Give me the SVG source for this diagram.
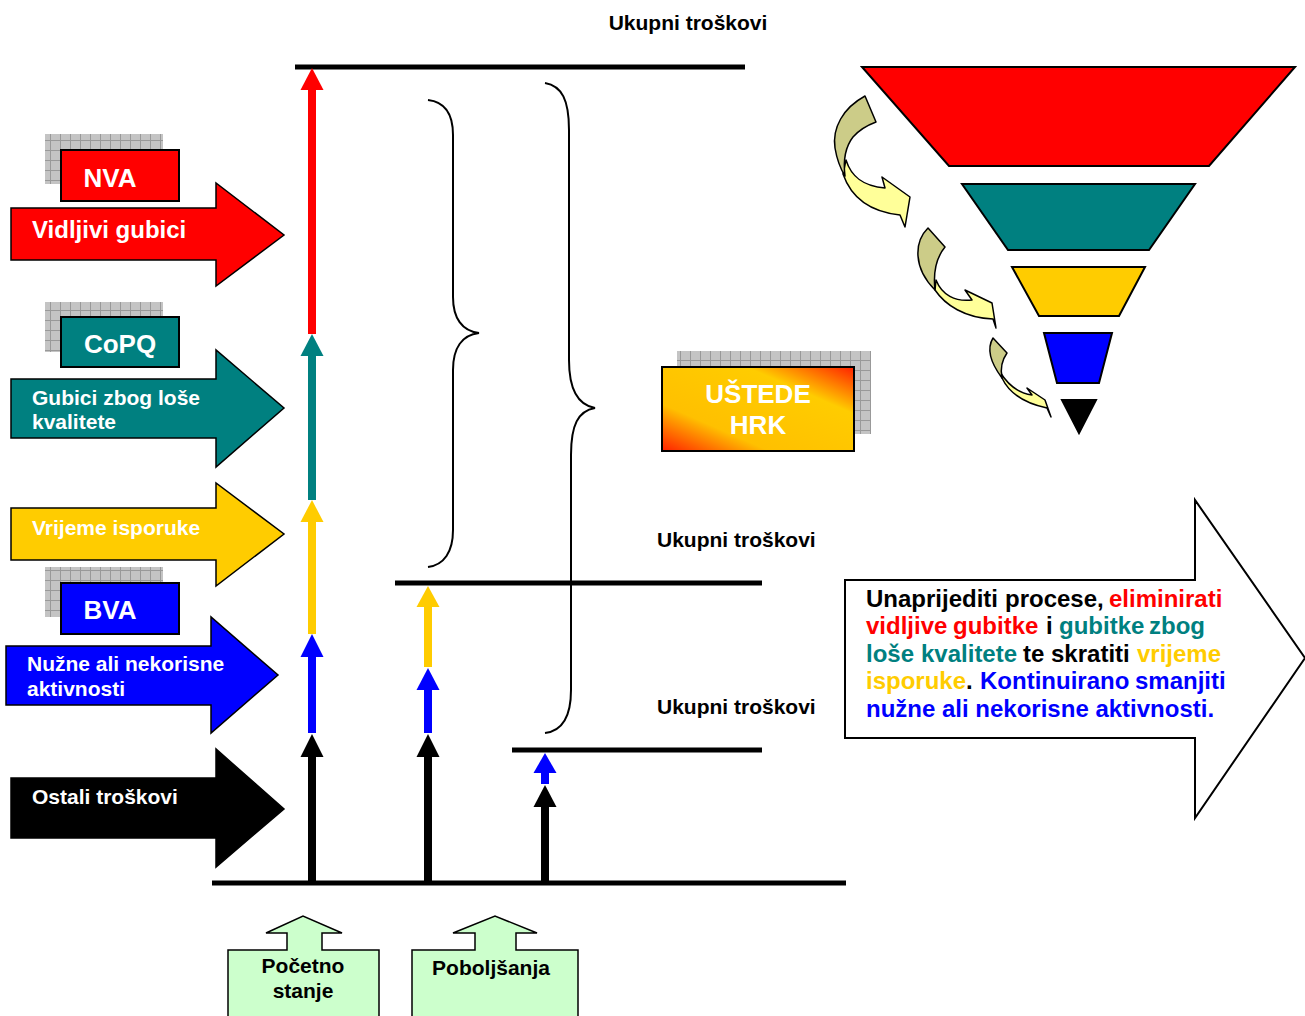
<svg xmlns="http://www.w3.org/2000/svg" width="1305" height="1016" viewBox="0 0 1305 1016">
<defs>
<pattern id="grid" width="10" height="10" patternUnits="userSpaceOnUse">
<rect width="10" height="10" fill="#c4c4c4"/>
<path d="M0,0.5H10M0.5,0V10" stroke="#999" stroke-width="1"/>
</pattern>
<linearGradient id="sav" x1="0" y1="1" x2="1" y2="0">
<stop offset="0" stop-color="#FF2000"/>
<stop offset="0.28" stop-color="#FFC000"/>
<stop offset="0.72" stop-color="#FFCC00"/>
<stop offset="1" stop-color="#FF2000"/>
</linearGradient>
<style>
text{font-family:"Liberation Sans",Arial,sans-serif;font-weight:bold}
.w{fill:#fff}
.k{fill:#000}
.big{stroke:#000;stroke-width:1.5;stroke-linejoin:miter}
.box{stroke:#000;stroke-width:2}
.hl{stroke:#000;stroke-width:5}
.v{stroke-width:8}
.br{fill:none;stroke:#000;stroke-width:2}
.fun{stroke:#000;stroke-width:2}
.ca{stroke:#000;stroke-width:1.5;stroke-linejoin:round}
.cb{stroke:#000;stroke-width:1.5;fill:#CCFFCC}
</style>
</defs>
<rect width="1305" height="1016" fill="#fff"/>

<text x="688" y="30" font-size="21" text-anchor="middle">Ukupni troškovi</text>
<text x="657" y="547" font-size="21">Ukupni troškovi</text>
<text x="657" y="714" font-size="21">Ukupni troškovi</text>

<g id="nva">
<rect x="45" y="134" width="118" height="50" fill="url(#grid)"/>
<rect x="61" y="150" width="118" height="51" fill="#FF0000" class="box"/>
<text x="110" y="187" font-size="26" class="w" text-anchor="middle">NVA</text>
</g>
<g id="vidljivi">
<path d="M11,208 H216 V183 L284,235 L216,286 V260 H11 Z" fill="#FF0000" class="big"/>
<text x="32" y="238" font-size="24" class="w">Vidljivi gubici</text>
</g>

<g id="copq">
<rect x="45" y="302" width="118" height="50" fill="url(#grid)"/>
<rect x="61" y="317" width="118" height="50" fill="#008080" class="box"/>
<text x="120" y="353" font-size="26" class="w" text-anchor="middle">CoPQ</text>
</g>
<g id="gubici">
<path d="M11,379 H216 V350 L284,408 L216,467 V438 H11 Z" fill="#008080" class="big"/>
<text x="32" y="405" font-size="21" class="w">Gubici zbog loše</text>
<text x="32" y="429" font-size="21" class="w">kvalitete</text>
</g>

<g id="vrijeme">
<path d="M11,508 H216 V483 L284,534 L216,586 V560 H11 Z" fill="#FFCC00" class="big"/>
<text x="32" y="535" font-size="21" class="w">Vrijeme isporuke</text>
</g>

<g id="bva">
<rect x="45" y="567" width="118" height="50" fill="url(#grid)"/>
<rect x="61" y="583" width="118" height="51" fill="#0000FF" class="box"/>
<text x="110" y="619" font-size="26" class="w" text-anchor="middle">BVA</text>
</g>
<g id="nuzne">
<path d="M6,646 H211 V617 L278,675 L211,733 V705 H6 Z" fill="#0000FF" class="big"/>
<text x="27" y="671" font-size="21" class="w">Nužne ali nekorisne</text>
<text x="27" y="696" font-size="21" class="w">aktivnosti</text>
</g>

<g id="ostali">
<path d="M11,778 H216 V749 L284,809 L216,867 V838 H11 Z" fill="#000" class="big"/>
<text x="32" y="804" font-size="21" class="w">Ostali troškovi</text>
</g>

<g id="connectors">
<line x1="295" y1="67" x2="745" y2="67" class="hl" stroke-width="6"/>
<line x1="395" y1="583" x2="762" y2="583" class="hl"/>
<line x1="512" y1="750" x2="762" y2="750" class="hl"/>
<line x1="212" y1="883" x2="846" y2="883" class="hl"/>

<line x1="312" y1="88" x2="312" y2="334" stroke="#FF0000" class="v"/>
<polygon points="312,68 300.5,90 323.5,90" fill="#FF0000"/>
<line x1="312" y1="354" x2="312" y2="500" stroke="#008080" class="v"/>
<polygon points="312,334 300.5,356 323.5,356" fill="#008080"/>
<line x1="312" y1="520" x2="312" y2="634" stroke="#FFCC00" class="v"/>
<polygon points="312,500 300.5,522 323.5,522" fill="#FFCC00"/>
<line x1="312" y1="655" x2="312" y2="733" stroke="#0000FF" class="v"/>
<polygon points="312,634 300.5,657 323.5,657" fill="#0000FF"/>
<line x1="312" y1="755" x2="312" y2="881" stroke="#000" class="v"/>
<polygon points="312,734 300.5,757 323.5,757" fill="#000"/>

<line x1="428" y1="605" x2="428" y2="667" stroke="#FFCC00" class="v"/>
<polygon points="428,586 416.5,607 439.5,607" fill="#FFCC00"/>
<line x1="428" y1="688" x2="428" y2="733" stroke="#0000FF" class="v"/>
<polygon points="428,668 416.5,690 439.5,690" fill="#0000FF"/>
<line x1="428" y1="755" x2="428" y2="881" stroke="#000" class="v"/>
<polygon points="428,734 416.5,757 439.5,757" fill="#000"/>

<line x1="545" y1="771" x2="545" y2="784" stroke="#0000FF" class="v"/>
<polygon points="545,753 533.5,773 556.5,773" fill="#0000FF"/>
<line x1="545" y1="805" x2="545" y2="881" stroke="#000" class="v"/>
<polygon points="545,785 533.5,807 556.5,807" fill="#000"/>

<path d="M428,100 C446,102 453,115 453,135 V297 C453,318 462,331 479,333 C462,335 453,348 453,370 V530 C453,552 444,565 428,567" class="br"/>
<path d="M545,83 C562,86 569,100 569,130 V360 C569,390 578,405 595,408 C578,411 571,425 571,455 V690 C571,716 562,731 545,733" class="br"/>
</g>

<g id="ustede">
<rect x="677" y="351" width="194" height="83" fill="url(#grid)"/>
<rect x="662" y="367" width="192" height="84" fill="url(#sav)" class="box"/>
<text x="758" y="403" font-size="26" class="w" text-anchor="middle">UŠTEDE</text>
<text x="758" y="434" font-size="26" class="w" text-anchor="middle">HRK</text>
</g>

<g id="funnel">
<polygon points="862,67 1295,67 1209,166 949,166" fill="#FF0000" class="fun"/>
<polygon points="962,184 1195,184 1149,250 1008,250" fill="#008080" class="fun"/>
<polygon points="1012,267 1145,267 1119,316 1039,316" fill="#FFCC00" class="fun"/>
<polygon points="1044,333 1112,333 1099,383 1057,383" fill="#0000FF" class="fun"/>
<polygon points="1062,400 1096,400 1079,433" fill="#000" class="fun"/>
</g>

<g id="curved-arrows">
<path d="M846,160 C851,176 862,186 885,188 L882,177 L910,197 L905,227 L900,215 C872,212 852,200 843,174 Z" fill="#FFFF99" class="ca"/>
<path d="M865,96 C843,108 832,128 835,148 C837,160 840,168 845,176 C843,160 846,146 853,137 C860,129 868,125 876,122 Z" fill="#CCCC88" class="ca"/>
<path d="M936,280 C942,295 955,302 972,300 L965,290 L992,303 L996,328 L993,319 C965,318 945,305 935,290 Z" fill="#FFFF99" class="ca"/>
<path d="M928,228 C914,242 913,268 935,290 C933,272 936,258 945,247 Z" fill="#CCCC88" class="ca"/>
<path d="M1000,372 C1008,385 1018,393 1032,395 L1027,388 L1045,400 L1051,417 L1047,408 C1028,404 1010,395 1002,378 Z" fill="#FFFF99" class="ca"/>
<path d="M993,338 C987,348 990,362 1002,378 C1000,368 1002,360 1007,353 Z" fill="#CCCC88" class="ca"/>
</g>

<g id="goal">
<path d="M845,580 H1195 V500 L1305,658 L1195,818 V738 H845 Z" fill="#fff" stroke="#000" stroke-width="2"/>
<g font-size="24">
<text y="607"><tspan x="866" fill="#000">Unaprijediti</tspan><tspan x="1005" fill="#000">procese,</tspan><tspan x="1109" fill="#FF0000">eliminirati</tspan></text>
<text y="634"><tspan x="866" fill="#FF0000">vidljive</tspan><tspan x="953" fill="#FF0000">gubitke</tspan><tspan x="1046" fill="#000">i</tspan><tspan x="1059" fill="#008080">gubitke</tspan><tspan x="1149" fill="#008080">zbog</tspan></text>
<text y="662"><tspan x="866" fill="#008080">loše</tspan><tspan x="921" fill="#008080">kvalitete</tspan><tspan x="1023" fill="#000">te</tspan><tspan x="1051" fill="#000">skratiti</tspan><tspan x="1137" fill="#FFCC00">vrijeme</tspan></text>
<text y="689"><tspan x="866" fill="#FFCC00">isporuke</tspan><tspan fill="#000">.</tspan><tspan x="980" fill="#0000FF">Kontinuirano</tspan><tspan x="1135" fill="#0000FF">smanjiti</tspan></text>
<text y="717" fill="#0000FF"><tspan x="866">nužne ali nekorisne aktivnosti.</tspan></text>
</g>
</g>

<g id="pocetno">
<path d="M228,1017 V950 H287 V933 H266 L303,916 L342,933 H322 V950 H379 V1017" class="cb"/>
<text x="303" y="973" font-size="21" class="k" text-anchor="middle">Početno</text>
<text x="303" y="998" font-size="21" class="k" text-anchor="middle">stanje</text>
</g>
<g id="poboljsanja">
<path d="M412,1017 V950 H475 V933 H453 L495,916 L537,933 H516 V950 H578 V1017" class="cb"/>
<text x="491" y="975" font-size="21" class="k" text-anchor="middle">Poboljšanja</text>
</g>
</svg>
